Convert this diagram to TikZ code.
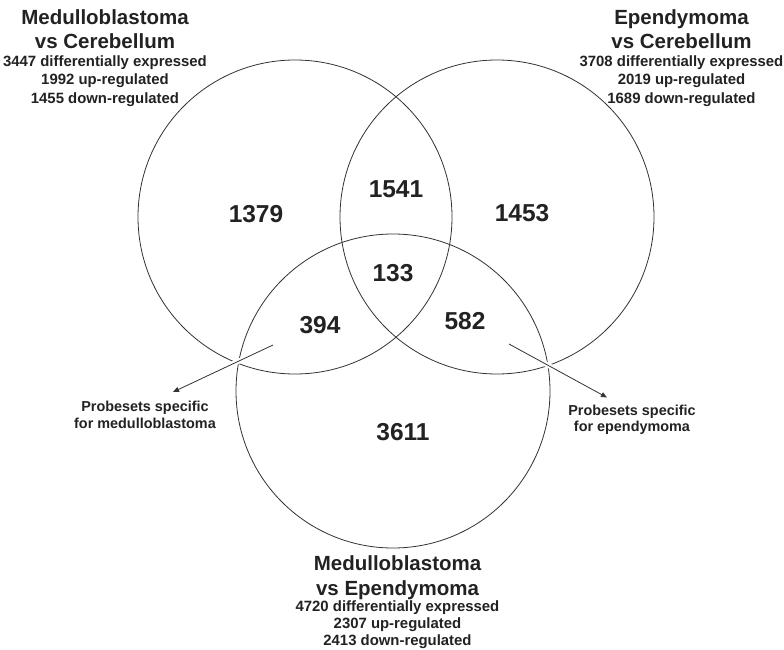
\documentclass[tikz,border=0pt]{standalone}
\usepackage{fontspec}
\setmainfont{Liberation Sans}
\usetikzlibrary{arrows.meta}
\definecolor{ink}{HTML}{222222}
\definecolor{linec}{HTML}{333333}
\begin{document}
\begin{tikzpicture}[x=1pt,y=-1pt,
  venn/.style={circle, draw=linec, line width=0.8pt, minimum size=314pt, inner sep=0pt},
  ttl/.style={text=ink, anchor=base, font=\bfseries\fontsize{20.5}{23}\selectfont, inner sep=0pt},
  sub/.style={text=ink, anchor=base, font=\bfseries\fontsize{14.9}{18}\selectfont, inner sep=0pt},
  num/.style={text=ink, font=\bfseries\fontsize{24.5}{25}\selectfont, inner sep=0pt},
  lbl/.style={text=ink, anchor=base, font=\bfseries\fontsize{14.4}{17}\selectfont, inner sep=0pt},
  arr/.style={draw=linec, line width=0.8pt, -{Triangle[length=6pt,width=5pt]},
     preaction={draw=white, line width=5pt, -}}
]
\useasboundingbox (0,0) rectangle (784,650);
\fill[white] (0,0) rectangle (784,650);
\node[venn] (L) at (295,217) {};
\node[venn] (R) at (497,217) {};
\node[venn] (B) at (393,391) {};

\node[num] (n1379) at (256,214) {1379};
\node[num] (n1541) at (396,189) {1541};
\node[num] (n1453) at (522,213) {1453};
\node[num] (n133) at (393,273) {133};
\node[num] (n394) at (320,325) {394};
\node[num] (n582) at (465,321) {582};
\node[num] (n3611) at (403,432) {3611};

\coordinate (a1s) at (273,345);
\coordinate (a1e) at (173,392);
\coordinate (a2s) at (509,344);
\coordinate (a2e) at (607,397.5);
\draw[arr] (a1s) -- (a1e);
\draw[arr] (a2s) -- (a2e);

\node[lbl] (p1a) at (145,411) {Probesets specific};
\node[lbl] (p1b) at (145,428) {for medulloblastoma};
\node[lbl] (p2a) at (632,415) {Probesets specific};
\node[lbl] (p2b) at (632,431) {for ependymoma};

\node[ttl] (t1a) at (105,25) {Medulloblastoma};
\node[ttl] (t1b) at (105,48.5) {vs Cerebellum};
\node[sub] (s1a) at (105,66.5) {3447 differentially expressed};
\node[sub] (s1b) at (105,85) {1992 up-regulated};
\node[sub] (s1c) at (105,103.3) {1455 down-regulated};

\node[ttl] (t2a) at (681.5,25) {Ependymoma};
\node[ttl] (t2b) at (681.5,48.5) {vs Cerebellum};
\node[sub] (s2a) at (681.5,66.5) {3708 differentially expressed};
\node[sub] (s2b) at (681.5,85) {2019 up-regulated};
\node[sub] (s2c) at (681.5,103.3) {1689 down-regulated};

\node[ttl] (t3a) at (397.5,570.5) {Medulloblastoma};
\node[ttl] (t3b) at (397.5,595.5) {vs Ependymoma};
\node[sub] (s3a) at (397.5,611.5) {4720 differentially expressed};
\node[sub] (s3b) at (397.5,628) {2307 up-regulated};
\node[sub] (s3c) at (397.5,645.5) {2413 down-regulated};
\end{tikzpicture}
\end{document}
